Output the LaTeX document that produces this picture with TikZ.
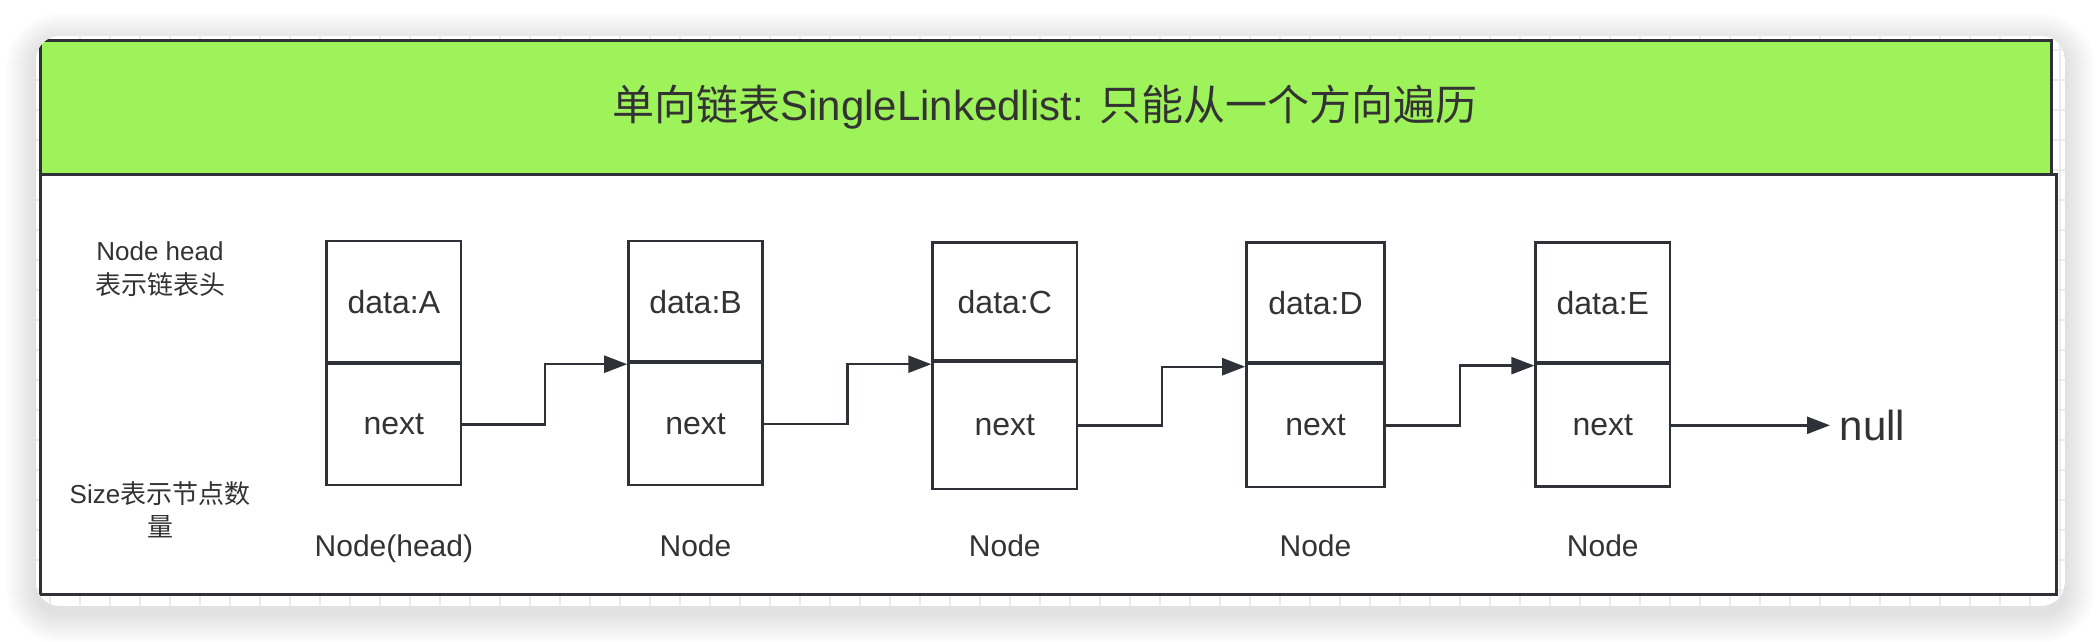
\documentclass[tikz,border=0pt]{standalone}
\usepackage{fontspec}
\setmainfont{Liberation Sans}
\newfontfamily\cjk{Noto Sans CJK SC}
\usetikzlibrary{arrows.meta,calc}
\definecolor{ink}{HTML}{2E3238}
\definecolor{txt}{HTML}{333333}
\definecolor{hdr}{HTML}{9EF25A}
\definecolor{gridc}{HTML}{EBEBEB}
\begin{document}
\begin{tikzpicture}[x=1pt,y=-1pt,
  cell/.style={draw=ink, line width=2.6pt, rectangle, inner sep=0pt, font=\fontsize{32}{38}\selectfont, text=txt},
  lbl/.style={font=\fontsize{30}{36}\selectfont, text=txt, anchor=base, inner sep=0pt},
  note/.style={font=\fontsize{26}{33.5}\selectfont, text=txt, align=center, inner sep=0pt},
  link/.style={draw=ink, line width=2.4pt, -{Triangle[length=23pt,width=17pt]}},
  divline/.style={draw=ink, line width=3.6pt},
]
\useasboundingbox (0,0) rectangle (2100,642);
\fill[white] (0,0) rectangle (2100,642);
% soft shadow of the card
\foreach \i [evaluate=\i as \r using 24+2*\i] in {1,...,15} {
  \fill[black, opacity=0.008, rounded corners=\r pt] (36-2*\i, 36-2*\i+7) rectangle (2065+2*\i, 606+2*\i+7);
}
% card with grid and frame
\begin{scope}
  \clip[rounded corners=24pt] (36,36) rectangle (2065,606);
  \fill[white] (36,36) rectangle (2065,606);
  \foreach \x in {50,80,...,2060} \draw[gridc, line width=1.5pt] (\x,36) -- (\x,606);
  \foreach \y in {50,80,...,600} \draw[gridc, line width=1.5pt] (36,\y) -- (2065,\y);
  \draw[ink, line width=3pt, fill=white] (40.7,174) rectangle (2056,594);
  \draw[ink, line width=3pt, fill=hdr] (40.7,40.7) rectangle (2051,174);
\end{scope}
% title
\node[font=\fontsize{42}{50}\selectfont, text=txt, inner sep=0pt] (title) at (1045,107) {{\cjk 单向链表}SingleLinkedlist: {\cjk 只能从一个方向遍历}};
% side notes
\node[note] (headnote) at (160,269) {Node head\\{\cjk 表示链表头}};
\node[note] (sizenote) at (160,510) {Size{\cjk 表示节点数}\\{\cjk 量}};
% boxes
\node[cell, minimum width=134.3pt, minimum height=123pt] (dA) at (393.9,302.5) {data:A};
\node[cell, minimum width=134.3pt, minimum height=121pt] (nA) at (393.9,424.5) {next};
\node[cell, minimum width=134pt, minimum height=122pt] (dB) at (695.5,302) {data:B};
\node[cell, minimum width=134pt, minimum height=122pt] (nB) at (695.5,424) {next};
\node[cell, minimum width=144.5pt, minimum height=119.3pt] (dC) at (1004.8,302.3) {data:C};
\node[cell, minimum width=144.5pt, minimum height=127pt] (nC) at (1004.8,425.5) {next};
\node[cell, minimum width=138pt, minimum height=121.3pt] (dD) at (1315.5,303.3) {data:D};
\node[cell, minimum width=138pt, minimum height=123pt] (nD) at (1315.5,425.5) {next};
\node[cell, minimum width=134.3pt, minimum height=121.3pt] (dE) at (1602.8,303.3) {data:E};
\node[cell, minimum width=134.3pt, minimum height=122.7pt] (nE) at (1602.8,425.3) {next};
\foreach \b in {A,B,C,D,E} \draw[divline] (n\b.north west) -- (n\b.north east);
% labels
\node[lbl] (lA) at (393.9,556) {Node(head)};
\node[lbl] (lB) at (695.5,556) {Node};
\node[lbl] (lC) at (1004.8,556) {Node};
\node[lbl] (lD) at (1315.5,556) {Node};
\node[lbl] (lE) at (1602.8,556) {Node};
% links
\draw[link] (nA.east) -| ($(nA.east)!.5!(nB.north west)$) |- ([yshift=-2.5pt]nB.north west);
\draw[link] (nB.east) -| ($(nB.east)!.5!(nC.north west)$) |- ([yshift=-3.5pt]nC.north west);
\draw[link] (nC.east) -| ($(nC.east)!.5!(nD.north west)$) |- ([yshift=-4pt]nD.north west);
\draw[link] (nD.east) -| ($(nD.east)!.5!(nE.north west)$) |- ([yshift=-3pt]nE.north west);
\coordinate (nullin) at (1830,424.5);
\draw[link] (nE.east) -- (nE.east -| nullin);
\node[font=\fontsize{42}{50}\selectfont, text=txt, anchor=base, inner sep=0pt] (nul) at (1872.5,440) {null};
\end{tikzpicture}
\end{document}
